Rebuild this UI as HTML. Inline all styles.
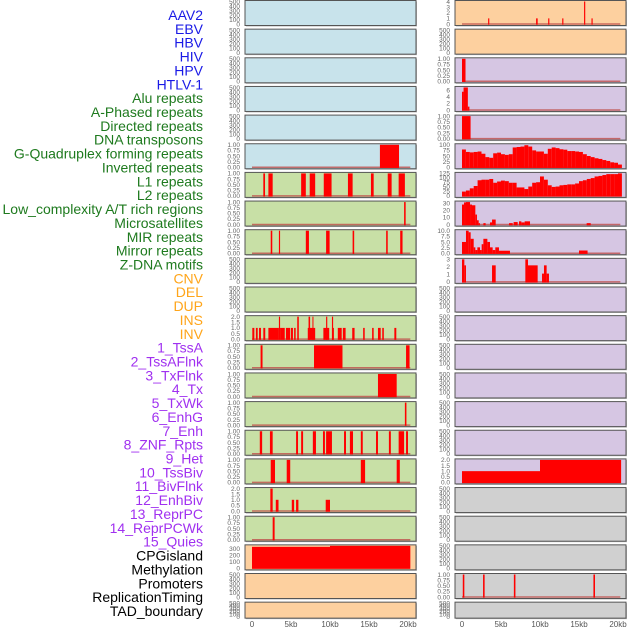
<!DOCTYPE html>
<html><head><meta charset="utf-8">
<style>
body{margin:0;background:#fff;}
svg{display:block;}
.lab{font-family:"Liberation Sans",sans-serif;font-size:14px;}
.tk{font-family:"Liberation Sans",sans-serif;font-size:6.5px;fill:#666;}
.xt{font-family:"Liberation Sans",sans-serif;font-size:8px;fill:#555;}
</style></head>
<body>
<svg id="chart" width="630" height="630" viewBox="0 0 630 630"></svg>
<script>
// ---- labels ----
const labelNames = ["AAV2","EBV","HBV","HIV","HPV","HTLV-1","Alu repeats","A-Phased repeats","Directed repeats","DNA transposons","G-Quadruplex forming repeats","Inverted repeats","L1 repeats","L2 repeats","Low_complexity A/T rich regions","Microsatellites","MIR repeats","Mirror repeats","Z-DNA motifs","CNV","DEL","DUP","INS","INV","1_TssA","2_TssAFlnk","3_TxFlnk","4_Tx","5_TxWk","6_EnhG","7_Enh","8_ZNF_Rpts","9_Het","10_TssBiv","11_BivFlnk","12_EnhBiv","13_ReprPC","14_ReprPCWk","15_Quies","CPGisland","Methylation","Promoters","ReplicationTiming","TAD_boundary"];
const labelGroups = [6,13,5,15,5];
const groupColors = ["#1a1ae6","#1e7a1e","#ffa51a","#a030f0","#000000"];

// ---- x ticks ----
const xTickValues = [0,5,10,15,20];
const xTickLabels = ["0","5kb","10kb","15kb","20kb"];

// ---- segment data [startKb, endKb, value] ----
const htlv1Segs = [[16.4,18.85,1]];
const aluSegs = [[1.45,1.67,1],[2.1,2.65,1],[6.3,6.9,1],[7.4,8.1,1],[9.2,10.2,1],[12.3,12.9,1],[15.25,15.6,1],[17.4,17.9,1],[18.8,19.6,1]];
const aphasedSegs = [[19.5,19.7,1]];
const directedSegs = [[2.4,2.6,1],[3.45,3.6,1],[6.9,7.3,1],[9.5,9.95,1],[12.9,13.1,1],[17.2,17.4,1],[19.0,19.3,1]];
const invertedSegs = [[0.04,0.3,1],[0.5,0.73,1],[0.9,1.15,1],[1.45,1.7,1],[2.1,3.45,1],[3.6,4.2,1],[4.35,4.9,1],[5.0,5.25,1],[5.4,5.6,1],[7.15,8.1,1],[9.15,9.9,1],[10.25,10.5,1],[11.0,11.5,1],[11.65,12.0,1],[12.85,13.15,1],[14.25,14.45,1],[15.4,15.6,1],[16.15,16.5,1],[16.7,16.9,1],[18.25,18.5,1],[3.45,3.6,2],[5.8,6.0,2],[7.25,7.45,2],[7.75,7.85,2],[9.5,9.65,2],[10.25,10.4,2]];
const l1Segs = [[1.1,1.35,1],[7.95,11.6,1],[19.75,20.2,1]];
const l2Segs = [[16.15,18.55,1]];
const lowcSegs = [[19.6,19.8,1]];
const microSegs = [[1.0,1.3,1],[2.3,2.65,1],[5.65,5.9,1],[6.3,6.55,1],[7.8,8.2,1],[9.1,9.35,1],[9.5,10.25,1],[11.8,12.05,1],[12.55,12.95,1],[13.95,14.2,1],[15.9,16.15,1],[17.55,17.8,1],[18.8,19.5,1],[19.75,20.0,1]];
const mirSegs = [[2.4,2.95,1],[4.45,4.9,1],[13.95,14.5,1],[18.55,18.95,1]];
const mirrorSegs = [[2.35,2.65,2],[3.05,3.4,1],[5.1,5.4,1],[5.65,5.95,1],[9.45,10.0,1]];
const zdnaSegs = [[2.65,2.9,1]];
const cnvSegs = [[0,10,330],[10,20.3,345]];
const insSegs = [[3.35,3.5,1],[9.5,9.7,1],[11.05,11.2,1],[12.85,13.0,1],[15.65,15.8,4],[16.6,16.75,1]];
const tssaSegs = [[0,0.45,1]];
const tssaflnkSegs = [[0,0.2,5.5],[0.2,0.75,6.8],[0.75,0.95,1]];
const txflnkSegs = [[0,1.1,1]];
const enhgSegs = [[0,0.26,28],[0.26,0.51,31],[0.51,1.03,31.5],[1.03,1.28,28],[1.28,1.71,27],[1.71,1.92,14],[1.92,2.14,6],[2.14,2.3,2],[2.74,3.03,2],[3.59,3.85,3],[3.85,4.32,7],[6.03,6.5,2],[6.62,7.14,3.5],[7.31,7.61,4.5],[7.61,8.03,3],[8.03,8.72,4.5],[15.98,16.5,2]];
const enhSegs = [[0,0.51,5],[0.51,0.85,10],[0.85,1.11,9.3],[1.11,1.5,6.4],[1.5,1.71,2.6],[1.71,1.97,1.4],[1.97,2.31,2.6],[2.31,2.52,1.4],[2.52,2.74,4],[2.74,3.25,6.4],[3.25,3.59,5],[3.59,3.93,2.6],[3.93,4.27,1.4],[4.27,4.74,2.6],[4.74,6.15,1.1],[15.0,16.1,1.2]];
const znfSegs = [[0,0.3,3],[0.3,0.51,2.2],[3.85,4.32,2.2],[8.12,8.46,3],[8.46,9.7,2.2],[10.26,10.51,1.1],[10.51,10.85,2.2],[10.85,11.15,1.1]];
const tssbivSegs = [[0,10,1],[10,20.4,2]];
const replSegs = [[0.1,0.3,1],[2.7,2.9,1],[6.65,6.85,1],[16.85,17.05,1]];
// ---- binned profiles (0.5kb bins starting at 0) ----
const txBins = [79,68,66,68,70,60,45,42,62,65,58,55,58,88,90,92,98,92,75,70,70,60,82,88,85,80,78,72,72,70,68,58,50,45,40,37,32,28,22,20,12];
const txwkBins = [24,30,42,55,87,90,90,94,73,80,85,82,73,73,47,47,38,52,73,76,108,90,59,50,52,59,61,64,64,69,82,87,94,99,108,111,116,121,121,121,125];

// ---- tick sets ----
const tEmpty = [0,100,200,300,400,500];
const tBin = [0,0.25,0.5,0.75,1];
const tTwo = [0,0.5,1,1.5,2];

const BLUE="#c8e3eb", GREEN="#c8e0a6", ORANGE="#fdd09f", PURPLE="#d6c6e3", GREY="#d0d0d0";
const tracks = [
 {col:0,row:0,bg:BLUE,ticks:tEmpty,ymax:500},
 {col:0,row:1,bg:BLUE,ticks:tEmpty,ymax:500},
 {col:0,row:2,bg:BLUE,ticks:tEmpty,ymax:500},
 {col:0,row:3,bg:BLUE,ticks:tEmpty,ymax:500},
 {col:0,row:4,bg:BLUE,ticks:tEmpty,ymax:500},
 {col:0,row:5,bg:BLUE,ticks:tBin,ymax:1,segs:htlv1Segs},
 {col:0,row:6,bg:GREEN,ticks:tBin,ymax:1,segs:aluSegs},
 {col:0,row:7,bg:GREEN,ticks:tBin,ymax:1,segs:aphasedSegs},
 {col:0,row:8,bg:GREEN,ticks:tBin,ymax:1,segs:directedSegs},
 {col:0,row:9,bg:GREEN,ticks:tEmpty,ymax:500},
 {col:0,row:10,bg:GREEN,ticks:tEmpty,ymax:500},
 {col:0,row:11,bg:GREEN,ticks:tTwo,ymax:2,segs:invertedSegs,fmt:1},
 {col:0,row:12,bg:GREEN,ticks:tBin,ymax:1,segs:l1Segs},
 {col:0,row:13,bg:GREEN,ticks:tBin,ymax:1,segs:l2Segs},
 {col:0,row:14,bg:GREEN,ticks:tBin,ymax:1,segs:lowcSegs},
 {col:0,row:15,bg:GREEN,ticks:tBin,ymax:1,segs:microSegs},
 {col:0,row:16,bg:GREEN,ticks:tBin,ymax:1,segs:mirSegs},
 {col:0,row:17,bg:GREEN,ticks:tTwo,ymax:2,segs:mirrorSegs,fmt:1},
 {col:0,row:18,bg:GREEN,ticks:tBin,ymax:1,segs:zdnaSegs},
 {col:0,row:19,bg:ORANGE,ticks:[0,100,200,300],ymax:345,segs:cnvSegs,nobase:1},
 {col:0,row:20,bg:ORANGE,ticks:tEmpty,ymax:500},
 {col:0,row:21,bg:ORANGE,ticks:tEmpty,ymax:500},
 {col:1,row:0,bg:ORANGE,ticks:[0,1,2,3,4],ymax:4,segs:insSegs},
 {col:1,row:1,bg:ORANGE,ticks:tEmpty,ymax:500},
 {col:1,row:2,bg:PURPLE,ticks:tBin,ymax:1,segs:tssaSegs},
 {col:1,row:3,bg:PURPLE,ticks:[0,2,4,6],ymax:6.8,segs:tssaflnkSegs},
 {col:1,row:4,bg:PURPLE,ticks:tBin,ymax:1,segs:txflnkSegs},
 {col:1,row:5,bg:PURPLE,ticks:[0,25,50,75,100],ymax:100,bins:txBins},
 {col:1,row:6,bg:PURPLE,ticks:[0,25,50,75,100,125],ymax:125,bins:txwkBins},
 {col:1,row:7,bg:PURPLE,ticks:[0,10,20,30],ymax:31.5,segs:enhgSegs},
 {col:1,row:8,bg:PURPLE,ticks:[0,2.5,5,7.5,10],ymax:10,segs:enhSegs,fmt:1},
 {col:1,row:9,bg:PURPLE,ticks:[0,1,2,3],ymax:3,segs:znfSegs},
 {col:1,row:10,bg:PURPLE,ticks:tEmpty,ymax:500},
 {col:1,row:11,bg:PURPLE,ticks:tEmpty,ymax:500},
 {col:1,row:12,bg:PURPLE,ticks:tEmpty,ymax:500},
 {col:1,row:13,bg:PURPLE,ticks:tEmpty,ymax:500},
 {col:1,row:14,bg:PURPLE,ticks:tEmpty,ymax:500},
 {col:1,row:15,bg:PURPLE,ticks:tEmpty,ymax:500},
 {col:1,row:16,bg:PURPLE,ticks:tTwo,ymax:2,segs:tssbivSegs,fmt:1},
 {col:1,row:17,bg:GREY,ticks:tEmpty,ymax:500},
 {col:1,row:18,bg:GREY,ticks:tEmpty,ymax:500},
 {col:1,row:19,bg:GREY,ticks:tEmpty,ymax:500},
 {col:1,row:20,bg:GREY,ticks:tBin,ymax:1,segs:replSegs},
 {col:1,row:21,bg:GREY,ticks:tEmpty,ymax:500}
];

const NS="http://www.w3.org/2000/svg";
const svg=document.getElementById('chart');
function mk(tag,attrs,parent){const e=document.createElementNS(NS,tag);for(const k in attrs)e.setAttribute(k,attrs[k]);(parent||svg).appendChild(e);return e;}

// labels
let li=0;
labelGroups.forEach((n,g)=>{for(let k=0;k<n;k++){
  const t=mk('text',{x:203,y:15+li*13.86+5,'text-anchor':'end',class:'lab',fill:groupColors[g]});
  t.textContent=labelNames[li];
  
  
  li++;}});

const colX=[245,455], PW=171;
function xScale(col,kb){return colX[col]+7+kb*7.8;}
function rowTop(r){return 0.5+r*28.65;}
function rowH(r){return r===21?16:25;}

tracks.forEach((tr,idx)=>{
  const y0=rowTop(tr.row), h=rowH(tr.row);
  const yTopV=y0+1, yBase=y0+h-1.5;
  const yS=v=>yBase-(Math.min(v,tr.ymax)/tr.ymax)*(yBase-yTopV);
  const g=mk('g',{});
  
  
  mk('rect',{x:colX[tr.col]+1,y:y0+1,width:PW,height:h,fill:'#bbb'},g);
  const bg=mk('rect',{x:colX[tr.col],y:y0,width:PW,height:h,fill:tr.bg,stroke:'#555','stroke-width':1},g);
  
  
  // ticks
  tr.ticks.forEach(v=>{
    const t=mk('text',{x:colX[tr.col]-5,y:yS(v)+2.3,'text-anchor':'end',class:'tk'},g);
    let s;
    if(tr.ticks===tBin) s=v.toFixed(2); else if(tr.fmt) s=v.toFixed(1); else s=String(v);
    t.textContent=s;
    
    
  });
  if(tr.segs||tr.bins){
    if(!tr.nobase){
      const bl=mk('line',{x1:xScale(tr.col,0),x2:xScale(tr.col,20.3),y1:yBase,y2:yBase,stroke:'#c0504d','stroke-width':1.5,opacity:0.8},g);
      
      
    }
    const items=tr.segs?tr.segs:tr.bins.map((v,i)=>[i*0.5,i*0.5+0.5,v]);
    items.forEach(s=>{
      const x1=xScale(tr.col,s[0]), x2=xScale(tr.col,s[1]);
      const r=mk('rect',{x:x1,y:yS(s[2]),width:Math.max(1,x2-x1),height:yBase-yS(s[2])+(tr.nobase?0.5:0.7),fill:'#ff0000'},g);
      
      
    });
  }
});

// x axes
[0,1].forEach(col=>{
  xTickValues.forEach((v,i)=>{
    const t=mk('text',{x:xScale(col,v),y:627,'text-anchor':'middle',class:'xt'});
    t.textContent=xTickLabels[i];
    
    
  });
});
</script>
</body></html>
